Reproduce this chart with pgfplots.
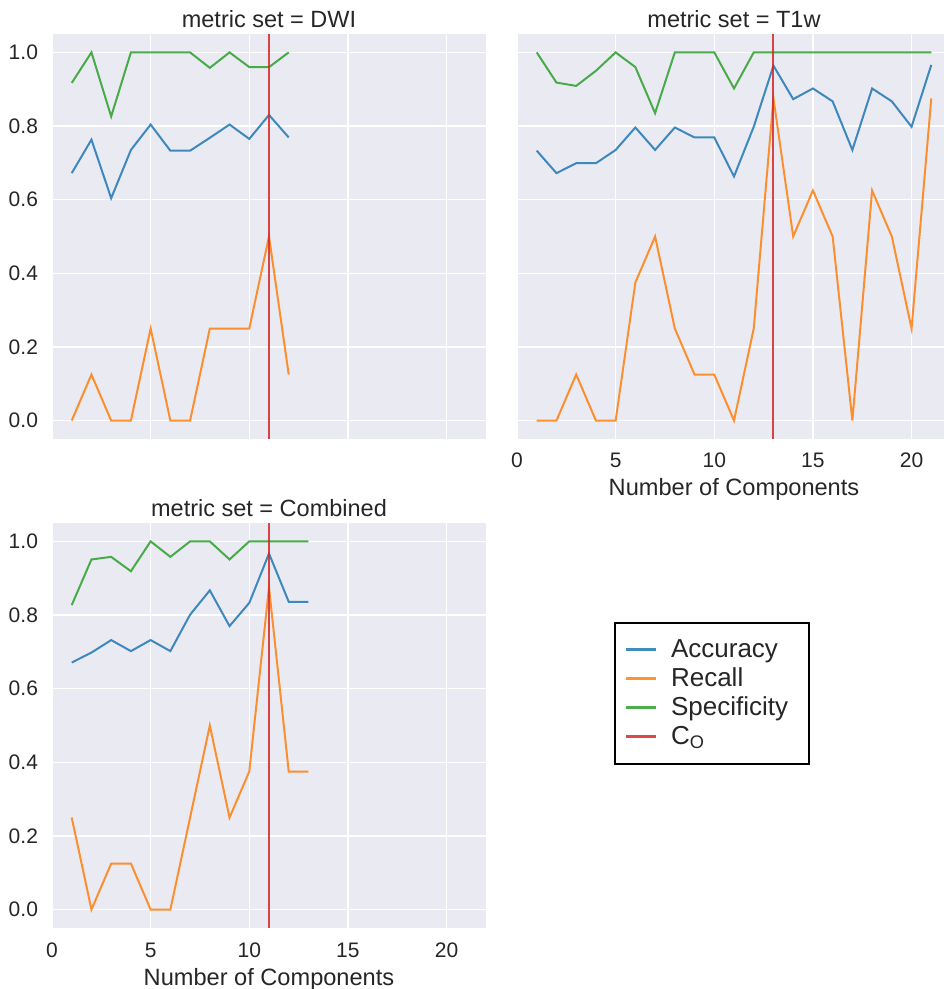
\documentclass[border=0pt]{standalone}
\usepackage{fontspec}
\setmainfont{Liberation Sans}
\usepackage{pgfplots}
\pgfplotsset{compat=1.18}
\definecolor{sbbg}{HTML}{EAEAF2}
\definecolor{sbtext}{HTML}{262626}
\definecolor{cacc}{HTML}{1F77B4}
\definecolor{crec}{HTML}{FF7F0E}
\definecolor{cspe}{HTML}{2CA02C}
\definecolor{cred}{HTML}{D62728}
\pgfplotsset{
 sb/.style={
  scale only axis, width=217pt, height=202.5pt,
  xmin=0, xmax=22, ymin=-0.05, ymax=1.05,
  axis background/.style={fill=sbbg},
  axis line style={draw=none},
  major tick length=0pt,
  grid=major, grid style={white, line width=0.75pt},
  xtick={0,5,10,15,20}, ytick={0,0.2,0.4,0.6,0.8,1.0},
  /pgf/number format/assume math mode=true,
  tick label style={font=\fontsize{10.5}{12}\selectfont, text=sbtext},
  yticklabel style={/pgf/number format/fixed, /pgf/number format/fixed zerofill, /pgf/number format/precision=1, anchor=east, xshift=-3.5pt},
  xticklabel style={anchor=base, yshift=-14.5pt},
  title style={at={(axis description cs:0.5,1)}, anchor=base, yshift=-2.8pt, font=\fontsize{11.75}{14}\selectfont, text=sbtext},
  xlabel style={at={(axis description cs:0.5,0)}, anchor=base, yshift=-28.5pt, font=\fontsize{11.8}{14}\selectfont, text=sbtext},
  every axis plot/.append style={line width=1pt, mark=none, draw opacity=0.85},
 }
}
\pgfplotstableread{
n acc rec spe
1 0.672 0.000 0.917
2 0.763 0.125 1.000
3 0.604 0.000 0.826
4 0.735 0.000 1.000
5 0.804 0.250 1.000
6 0.733 0.000 1.000
7 0.733 0.000 1.000
8 0.768 0.250 0.958
9 0.804 0.250 1.000
10 0.765 0.250 0.960
11 0.830 0.500 0.960
12 0.769 0.125 1.000
}\dwi
\pgfplotstableread{
n acc rec spe
1 0.733 0.000 1.000
2 0.672 0.000 0.918
3 0.699 0.125 0.909
4 0.699 0.000 0.950
5 0.735 0.000 1.000
6 0.796 0.375 0.960
7 0.735 0.500 0.835
8 0.796 0.250 1.000
9 0.769 0.125 1.000
10 0.769 0.125 1.000
11 0.663 0.000 0.902
12 0.798 0.250 1.000
13 0.964 0.875 1.000
14 0.873 0.500 1.000
15 0.902 0.625 1.000
16 0.867 0.500 1.000
17 0.735 0.000 1.000
18 0.902 0.625 1.000
19 0.867 0.500 1.000
20 0.798 0.250 1.000
21 0.966 0.875 1.000
}\tow
\pgfplotstableread{
n acc rec spe
1 0.671 0.250 0.827
2 0.698 0.000 0.951
3 0.732 0.125 0.958
4 0.702 0.125 0.919
5 0.732 0.000 1.000
6 0.702 0.000 0.958
7 0.801 0.250 1.000
8 0.867 0.500 1.000
9 0.770 0.250 0.951
10 0.833 0.375 1.000
11 0.967 0.875 1.000
12 0.836 0.375 1.000
13 0.836 0.375 1.000
}\comb
\begin{document}
\begin{tikzpicture}
\begin{axis}[sb, at={(26pt,275pt)}, anchor=south west,
  xticklabels={}, title={metric set = DWI}]
\addplot[cacc] table[x=n,y=acc]{\dwi};
\addplot[crec] table[x=n,y=rec]{\dwi};
\addplot[cspe] table[x=n,y=spe]{\dwi};
\addplot[cred] coordinates {(11,-0.05) (11,1.05)};
\end{axis}
\begin{axis}[sb, at={(258.5pt,275pt)}, anchor=south west,
  yticklabels={}, title={metric set = T1w}, xlabel={Number of Components}]
\addplot[cacc] table[x=n,y=acc]{\tow};
\addplot[crec] table[x=n,y=rec]{\tow};
\addplot[cspe] table[x=n,y=spe]{\tow};
\addplot[cred] coordinates {(13,-0.05) (13,1.05)};
\end{axis}
\begin{axis}[sb, at={(26pt,30.5pt)}, anchor=south west,
  title={metric set = Combined}, xlabel={Number of Components},
  legend cell align=left,
  legend style={at={(1.2949,0.7555)}, anchor=north west, draw=black, line width=0.85pt, fill=white,
    font=\fontsize{13}{15}\selectfont, text=sbtext, inner xsep=5pt, inner ysep=6.25pt, row sep=0pt,
    nodes={inner sep=1.5pt, text height=9.5pt, text depth=2pt},
    /tikz/every odd column/.append style={column sep=5pt},
    /tikz/every even column/.append style={text width=62.5pt}},
  legend image code/.code={\draw[#1, line width=1.6pt] (0pt,0pt) -- (15pt,0pt);}]
\addplot[cacc] table[x=n,y=acc]{\comb};
\addlegendentry{Accuracy}
\addplot[crec] table[x=n,y=rec]{\comb};
\addlegendentry{Recall}
\addplot[cspe] table[x=n,y=spe]{\comb};
\addlegendentry{Specificity}
\addplot[cred] coordinates {(11,-0.05) (11,1.05)};
\addlegendentry{C\textsubscript{O}}
\end{axis}
\pgfresetboundingbox
\useasboundingbox (0,0) rectangle (471.5pt,494.5pt);
\end{tikzpicture}
\end{document}
